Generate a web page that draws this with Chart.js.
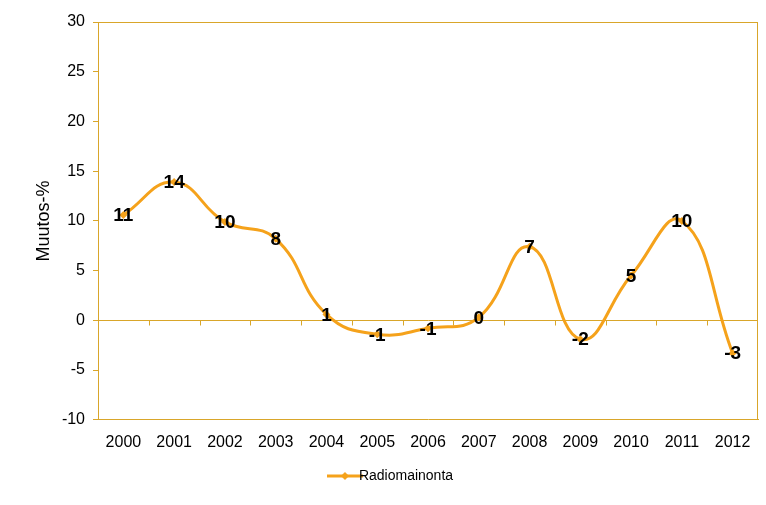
<!DOCTYPE html>
<html>
<head>
<meta charset="utf-8">
<script src="https://cdn.jsdelivr.net/npm/chart.js@4/dist/chart.umd.min.js"></script>
<style>
html,body{margin:0;padding:0;background:#fff;}
#wrap{width:766px;height:505px;position:relative;}
</style>
</head>
<body>
<div id="wrap"><canvas id="c" width="766" height="505"></canvas></div>
<script>
const categories = ['2000','2001','2002','2003','2004','2005','2006','2007','2008','2009','2010','2011','2012'];
const radioValues = [10.6, 13.9, 9.9, 8.2, 0.6, -1.4, -0.8, 0.3, 7.4, -1.9, 4.5, 10.0, -3.3];
const yTicks = [-10, -5, 0, 5, 10, 15, 20, 25, 30];
const seriesName = 'Radiomainonta';
const yTitle = 'Muutos-%';

const LINE = '#F5A21B';
const AXIS = '#D9A62A';
const FONT = '"Liberation Sans", Arial, sans-serif';

function legendIcon(){
  const c = document.createElement('canvas');
  c.width = 36; c.height = 10;
  const g = c.getContext('2d');
  g.strokeStyle = LINE; g.lineWidth = 3;
  g.beginPath(); g.moveTo(0,5); g.lineTo(36,5); g.stroke();
  g.fillStyle = LINE;
  g.beginPath(); g.moveTo(18,1); g.lineTo(22,5); g.lineTo(18,9); g.lineTo(14,5); g.closePath(); g.fill();
  return c;
}

const framePlugin = {
  id: 'frame',
  beforeDatasetsDraw(chart){
    const {ctx, chartArea:a, scales} = chart;
    ctx.save();
    ctx.strokeStyle = AXIS; ctx.lineWidth = 1;
    ctx.beginPath();
    ctx.moveTo(a.left, a.top + 0.5); ctx.lineTo(a.right, a.top + 0.5);
    ctx.moveTo(a.right - 0.5, a.top); ctx.lineTo(a.right - 0.5, a.bottom);
    ctx.stroke();
    const y0 = Math.round(scales.y.getPixelForValue(0)) + 0.5;
    const xs = scales.x;
    ctx.beginPath();
    for (let i = 1; i < categories.length; i++) {
      const x = Math.round((xs.getPixelForValue(i-1) + xs.getPixelForValue(i)) / 2) + 0.5;
      ctx.moveTo(x, y0); ctx.lineTo(x, y0 + 5);
    }
    ctx.stroke();
    ctx.restore();
  },
  afterDatasetsDraw(chart){
    const {ctx} = chart;
    const meta = chart.getDatasetMeta(0);
    ctx.save();
    ctx.font = 'bold 19px ' + FONT;
    ctx.fillStyle = '#000';
    ctx.textAlign = 'center';
    ctx.textBaseline = 'middle';
    meta.data.forEach((pt, i) => {
      ctx.fillText(String(Math.round(radioValues[i])), pt.x, pt.y + 1);
    });
    ctx.restore();
  }
};

new Chart(document.getElementById('c'), {
  type: 'line',
  data: {
    labels: categories,
    datasets: [{
      label: seriesName,
      data: radioValues,
      borderColor: LINE,
      backgroundColor: LINE,
      borderWidth: 3,
      tension: 0.45,
      pointStyle: 'rectRot',
      pointRadius: 4,
      pointBackgroundColor: LINE,
      pointBorderWidth: 0
    }]
  },
  options: {
    responsive: false,
    animation: false,
    layout: { padding: { left: 33, right: 8, top: 22, bottom: 12 } },
    plugins: {
      tooltip: { enabled: false },
      legend: {
        position: 'bottom',
        labels: {
          usePointStyle: true,
          color: '#000',
          font: { family: FONT, size: 14 },
          padding: 4,
          generateLabels(chart){
            return [{ text: seriesName, pointStyle: legendIcon(), fillStyle: LINE, strokeStyle: LINE, lineWidth: 0, datasetIndex: 0, fontColor: '#000' }];
          }
        }
      }
    },
    scales: {
      x: {
        offset: true,
        grid: { display: false, drawTicks: false },
        border: { display: true, color: AXIS, width: 1 },
        ticks: { color: '#000', font: { family: FONT, size: 16 }, padding: 13, maxRotation: 0 }
      },
      y: {
        min: -10, max: 30,
        afterBuildTicks(scale){ scale.ticks = yTicks.map(v => ({ value: v })); },
        afterFit(scale){ scale.width = 65; },
        grid: {
          color: (c) => (c.tick && c.tick.value === 0) ? AXIS : 'rgba(0,0,0,0)',
          tickColor: AXIS,
          tickLength: 5,
          drawTicks: true
        },
        border: { display: true, color: AXIS, width: 1 },
        ticks: { color: '#000', font: { family: FONT, size: 16 }, padding: 8 },
        title: { display: true, text: yTitle, color: '#000', font: { family: FONT, size: 18 }, padding: { top: 0, bottom: 0 } }
      }
    }
  },
  plugins: [framePlugin]
});
</script>
</body>
</html>
